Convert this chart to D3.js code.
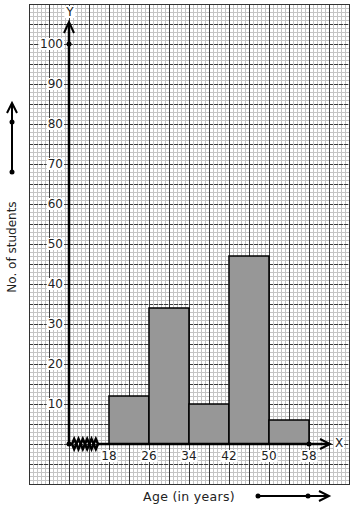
<!DOCTYPE html>
<html><head><meta charset="utf-8">
<script src="https://cdn.jsdelivr.net/npm/d3@7"></script>
<style>body{margin:0;background:#fff}svg{display:block}text{font-family:"DejaVu Sans",sans-serif}</style>
</head><body>
<svg id="c" width="354" height="510"></svg>
<script>
const binStarts = [18, 26, 34, 42, 50];
const binWidth = 8;
const students = [12, 34, 10, 47, 6];
const xTickLabels = [18, 26, 34, 42, 50, 58];
const yTickLabels = [10, 20, 30, 40, 50, 60, 70, 80, 90, 100];

const svg = d3.select("#c");
// scales: 5 px per year, 4 px per student
const x = d3.scaleLinear().domain([10, 58]).range([69, 309]);
const y = d3.scaleLinear().domain([0, 100]).range([444, 44]);
const gx0 = x.invert(29), gx1 = x.invert(349);
const gy0 = y.invert(484), gy1 = y.invert(4);

// graph paper
const g = svg.append("g");
const minorX = d3.range(gx0, gx1 + 0.01, 0.8);
const minorY = d3.range(gy0, gy1 + 0.01, 1);
g.selectAll(".mx").data(minorX).join("line")
  .attr("x1", d => Math.round(x(d)) + 0.5).attr("x2", d => Math.round(x(d)) + 0.5)
  .attr("y1", 4).attr("y2", 484).attr("stroke", "#c4c4c4").attr("stroke-width", 1);
g.selectAll(".my").data(minorY).join("line")
  .attr("y1", d => Math.round(y(d)) + 0.5).attr("y2", d => Math.round(y(d)) + 0.5)
  .attr("x1", 29).attr("x2", 349).attr("stroke", "#c4c4c4").attr("stroke-width", 1);
const majorX = d3.range(gx0, gx1 + 0.01, 4);
const majorY = d3.range(gy0, gy1 + 0.01, 5);
g.selectAll(".MX").data(majorX).join("line")
  .attr("x1", d => Math.round(x(d)) + 0.5).attr("x2", d => Math.round(x(d)) + 0.5)
  .attr("y1", 4).attr("y2", 484).attr("stroke", "#3a3a3a").attr("stroke-width", 1);
g.selectAll(".MY").data(majorY).join("line")
  .attr("y1", d => Math.round(y(d)) + 0.5).attr("y2", d => Math.round(y(d)) + 0.5)
  .attr("x1", 29).attr("x2", 349).attr("stroke", "#3a3a3a").attr("stroke-width", 1)
  .attr("stroke-dasharray", "4,1");
g.append("rect").attr("x", 29.5).attr("y", 4.5).attr("width", 320).attr("height", 480)
  .attr("fill", "none").attr("stroke", "#333");

// bars
svg.selectAll(".bar").data(binStarts).join("rect")
  .attr("x", d => x(d)).attr("width", d => x(d + binWidth) - x(d))
  .attr("y", (d, i) => y(students[i])).attr("height", (d, i) => y(0) - y(students[i]))
  .attr("fill", "#979797").attr("stroke", "#000").attr("stroke-width", 1.5);

// axes
const ax = svg.append("g").attr("stroke", "#000").attr("fill", "none").attr("stroke-width", 2.5);
ax.append("line").attr("x1", x(10)).attr("x2", x(10)).attr("y1", y(0)).attr("y2", 23);
ax.append("path").attr("d", `M${x(10)-5},33 L${x(10)},22 L${x(10)+5},33`).attr("stroke-width", 2);
ax.append("line").attr("x1", x(10)).attr("x2", 72).attr("y1", y(0)).attr("y2", y(0));
ax.append("line").attr("x1", 98).attr("x2", 329).attr("y1", y(0)).attr("y2", y(0));
ax.append("path").attr("d", `M320,439 L330,444 L320,449`).attr("stroke-width", 2);
// zigzag break
let zz = "M72," + y(0);
const nz = 6;
for (let i = 0; i < nz; i++) {
  const xs = 72 + (i + 0.5) * (26 / nz);
  zz += ` L${xs},${y(0) + (i % 2 ? 5 : -5)}`;
}
zz += ` L98,${y(0)}`;
// draw a double zigzag for the thick look
ax.append("path").attr("d", zz).attr("stroke-width", 2.5);
let zz2 = "M72," + y(0);
for (let i = 0; i < nz; i++) {
  const xs = 72 + (i + 0.5) * (26 / nz);
  zz2 += ` L${xs},${y(0) + (i % 2 ? -5 : 5)}`;
}
zz2 += ` L98,${y(0)}`;
ax.append("path").attr("d", zz2).attr("stroke-width", 2.5);

const dots = [[x(10), y(0)], [x(58), y(0)], [x(10), y(100)]];
svg.selectAll(".dot").data(dots).join("circle")
  .attr("cx", d => d[0]).attr("cy", d => d[1]).attr("r", 2.5).attr("fill", "#000");

// labels with white backgrounds
function label(t, px, py, anchor) {
  const tx = svg.append("text").attr("x", px).attr("y", py).attr("text-anchor", anchor)
    .attr("dominant-baseline", "central").attr("font-size", 12).attr("fill", "#222").text(t);
  const b = tx.node().getBBox();
  svg.insert("rect", () => tx.node()).attr("x", b.x - 1).attr("y", b.y + 1)
    .attr("width", b.width + 2).attr("height", b.height - 2).attr("fill", "#fff");
}
yTickLabels.forEach(v => label(v, 63, y(v), "end"));
xTickLabels.forEach(v => label(v, x(v), 456, "middle"));
label("Y", 70, 12, "middle");
label("X", 339, 443, "middle");

// axis titles
svg.append("text").attr("x", 189).attr("y", 496).attr("text-anchor", "middle")
  .attr("dominant-baseline", "central").attr("font-size", 12.5).attr("fill", "#222")
  .attr("letter-spacing", 0.3).text("Age (in years)");
svg.append("text").attr("transform", "translate(12,247) rotate(-90)").attr("text-anchor", "middle")
  .attr("dominant-baseline", "central").attr("font-size", 12).attr("fill", "#222")
  .text("No. of students");

// decorative direction arrows
const da = svg.append("g").attr("stroke", "#000").attr("fill", "none").attr("stroke-width", 2);
da.append("line").attr("x1", 12).attr("x2", 12).attr("y1", 172).attr("y2", 104);
da.append("path").attr("d", "M7,113 L12,103 L17,113");
da.append("line").attr("x1", 258).attr("x2", 328).attr("y1", 496).attr("y2", 496);
da.append("path").attr("d", "M319,491 L329,496 L319,501");
svg.selectAll(".dd").data([[12, 122], [12, 172], [258, 496], [308, 496]]).join("circle")
  .attr("cx", d => d[0]).attr("cy", d => d[1]).attr("r", 2.5).attr("fill", "#000");
</script>
</body></html>
